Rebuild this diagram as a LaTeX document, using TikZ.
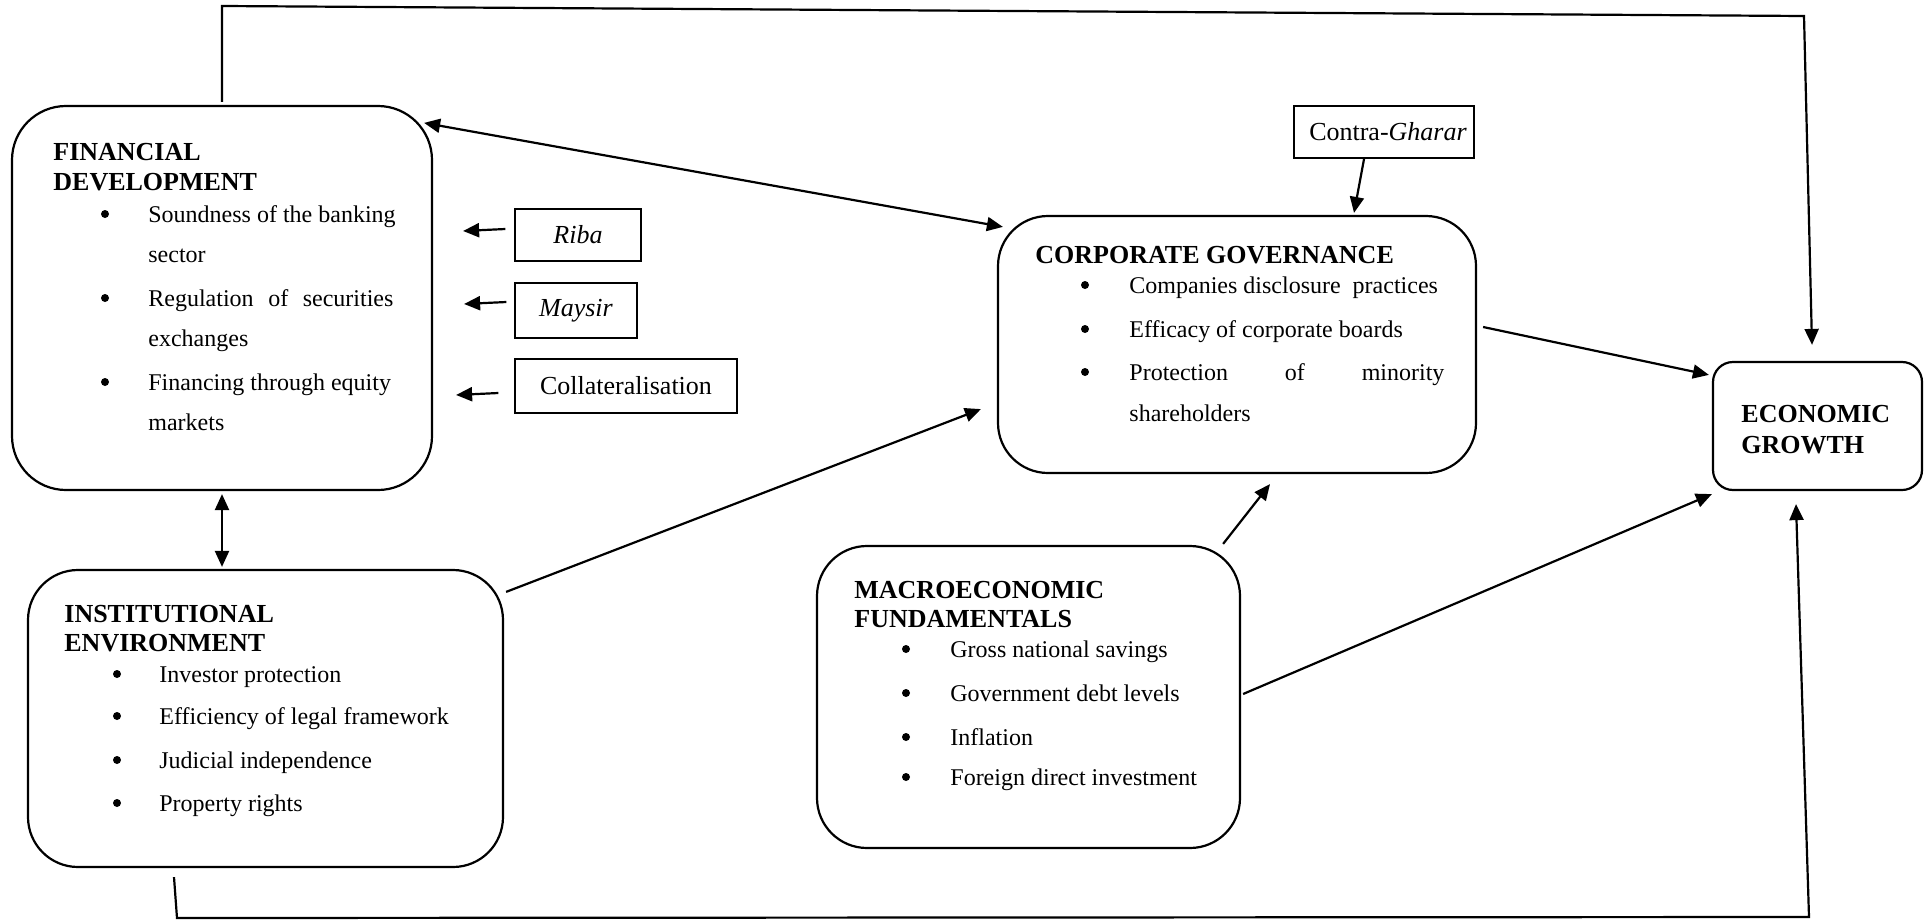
\documentclass[tikz,border=0pt]{standalone}
\usepackage{fontspec}
\setmainfont{Liberation Serif}
\usetikzlibrary{arrows.meta,calc}

% one bulleted line: name, bullet x, text x, baseline y, text
\newcommand\listline[5]{%
  \node[bul] (#1-dot) at (#2,#4-8) {};
  \node[itm] (#1) at (#3,#4) {#5};}

\begin{document}
\begin{tikzpicture}[x=0.5pt,y=-0.5pt,
  bigbox/.style={draw, line width=1.1pt, rounded corners=25pt, inner sep=0pt},
  tagbox/.style={draw, line width=1.1pt, inner sep=0pt, font=\fontsize{13}{15}\selectfont},
  ttl/.style={anchor=base west, inner sep=0pt, font=\fontsize{13}{15}\selectfont\bfseries},
  bul/.style={circle, fill, inner sep=0pt, minimum size=4pt},
  itm/.style={anchor=base west, inner sep=0pt, font=\fontsize{12}{14}\selectfont},
  arr/.style={line width=1.1pt, -{Triangle[length=8pt,width=7pt]}},
  darr/.style={line width=1.1pt, {Triangle[length=8pt,width=7pt]}-{Triangle[length=8pt,width=7pt]}}
]
\useasboundingbox (0,0) rectangle (1932,920);

% ---- main boxes ----
\node[bigbox, rounded corners=27pt, minimum width=210pt, minimum height=192pt] (fd) at (222,298) {};
\node[bigbox, minimum width=237.5pt, minimum height=148.5pt] (ie) at (265.5,718.5) {};
\node[bigbox, minimum width=239pt, minimum height=128.5pt] (cg) at (1237,344.5) {};
\node[bigbox, minimum width=211.5pt, minimum height=151pt] (mf) at (1028.5,697) {};
\node[bigbox, rounded corners=10pt, minimum width=104.5pt, minimum height=64pt] (eg) at (1817.5,426) {};

% ---- small factor boxes ----
\node[tagbox, minimum width=63pt, minimum height=26pt] (riba) at (578,235) {\itshape Riba};
\node[tagbox, minimum width=61pt, minimum height=27.5pt] (maysir) at (576,310.5) {\itshape Maysir};
\node[tagbox, minimum width=111pt, minimum height=27pt] (coll) at (626,386) {Collateralisation};
\node[tagbox, minimum width=90pt, minimum height=26pt] (gharar) at (1384,132) {\hspace*{4pt}Contra-\textit{Gharar}};

% ---- Financial development ----
\node[ttl] (fd-t1) at (53,161) {FINANCIAL};
\node[ttl] (fd-t2) at (53,190) {DEVELOPMENT};
\listline{fd-i1}{105}{148}{222}{Soundness of the banking}
\node[itm] (fd-i1b) at (148,262) {sector};
\listline{fd-i2}{105}{148}{306}{\makebox[122.5pt][s]{Regulation\hfill of\hfill securities}}
\node[itm] (fd-i2b) at (148,346) {exchanges};
\listline{fd-i3}{105}{148}{390}{Financing through equity}
\node[itm] (fd-i3b) at (148,430) {markets};

% ---- Institutional environment ----
\node[ttl] (ie-t1) at (64,622) {INSTITUTIONAL};
\node[ttl] (ie-t2) at (64,651) {ENVIRONMENT};
\listline{ie-i1}{117}{159}{682}{Investor protection}
\listline{ie-i2}{117}{159}{724}{Efficiency of legal framework}
\listline{ie-i3}{117}{159}{768}{Judicial independence}
\listline{ie-i4}{117}{159}{811}{Property rights}

% ---- Corporate governance ----
\node[ttl] (cg-t1) at (1035,263) {CORPORATE GOVERNANCE};
\listline{cg-i1}{1085}{1129}{293}{Companies disclosure\ \ practices}
\listline{cg-i2}{1085}{1129}{337}{Efficacy of corporate boards}
\listline{cg-i3}{1085}{1129}{380}{\makebox[157.5pt][s]{Protection\hfill of\hfill minority}}
\node[itm] (cg-i3b) at (1129,421) {shareholders};

% ---- Macroeconomic fundamentals ----
\node[ttl] (mf-t1) at (854,598) {MACROECONOMIC};
\node[ttl] (mf-t2) at (854,627) {FUNDAMENTALS};
\listline{mf-i1}{906}{950}{657}{Gross national savings}
\listline{mf-i2}{906}{950}{701}{Government debt levels}
\listline{mf-i3}{906}{950}{745}{Inflation}
\listline{mf-i4}{906}{950}{785}{Foreign direct investment}

% ---- Economic growth ----
\node[ttl] (eg-t1) at (1741,422) {ECONOMIC};
\node[ttl] (eg-t2) at (1741,453) {GROWTH};

% ---- connectors ----
\draw[arr] ($(riba.west)+(-8.5,-6)$) -- ($(fd.east)+(30,-67)$);
\draw[arr] ($(maysir.west)+(-7.5,-8.5)$) -- ($(fd.east)+(31,6)$);
\draw[arr] ($(coll.west)+(-15.5,7)$) -- ($(fd.east)+(23,97)$);
\draw[arr] ($(gharar.south)+(-20,0)$) -- ($(cg.north)+(117,-2)$);

\draw[darr] ($(fd.north east)+(-9,18)$) -- ($(cg.north west)+(6,12)$);
\draw[darr] ($(fd.south)+(0,3)$) -- ($(ie.north)+(-43.5,-2)$);

\draw[arr] ($(ie.north east)+(2,23)$) -- ($(cg.south west)+(-16,-65)$);
\draw[arr] ($(mf.north east)+(-18,-1)$) -- ($(cg.south)+(33,10)$);
\draw[arr] ($(cg.east)+(6,-17.5)$) -- ($(eg.north west)+(-3,14)$);
\draw[arr] ($(mf.east)+(2,-3)$) -- ($(eg.south west)+(0,3)$);

% feedback loops round the top and the bottom
\coordinate (tl) at (222,6);
\coordinate (tr) at (1804,16);
\coordinate (bl) at (177,918);
\coordinate (br) at (1809,917);
\draw[arr] ($(fd.north)+(0,-3)$) -- (tl) -- (tr) -- ($(eg.north)+(-5.5,-16)$);
\draw[arr] ($(ie.south)+(-91.5,9)$) -- (bl) -- (br) -- ($(eg.south)+(-21.5,13)$);

\end{tikzpicture}
\end{document}
